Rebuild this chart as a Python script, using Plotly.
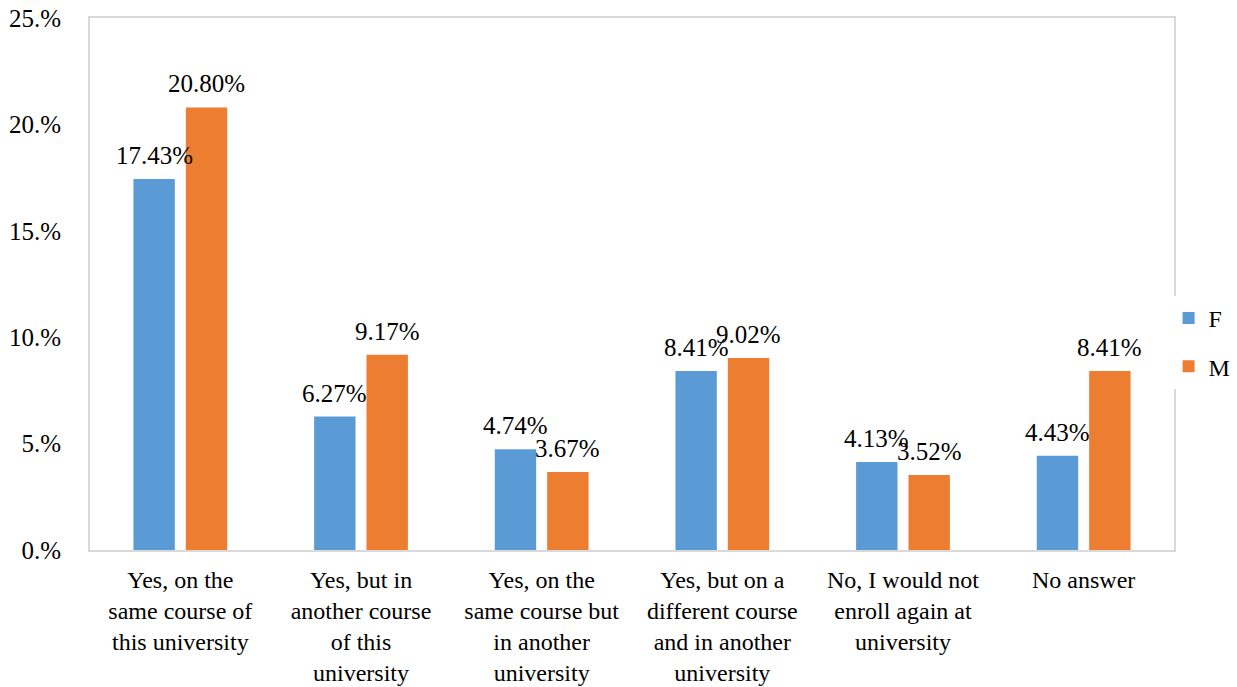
import plotly.graph_objects as go

# answers to "would you enroll again?"
categories = [
    "Yes, on the<br>same course of<br>this university",
    "Yes, but in<br>another course<br>of this<br>university",
    "Yes, on the<br>same course but<br>in another<br>university",
    "Yes, but on a<br>different course<br>and in another<br>university",
    "No, I would not<br>enroll again at<br>university",
    "No answer",
]
female = [17.43, 6.27, 4.74, 8.41, 4.13, 4.43]
male = [20.80, 9.17, 3.67, 9.02, 3.52, 8.41]
ytick_vals = [0, 5, 10, 15, 20, 25]
ytick_text = ["0.%", "5.%", "10.%", "15.%", "20.%", "25.%"]

font = "Times New Roman, Liberation Serif, serif"
bargap = 0.42
fsize = 25

fig = go.Figure()
fig.add_trace(go.Bar(x=categories, y=female, name="F", marker_color="#5b9bd5",
                     legendgroup="f"))
fig.add_trace(go.Bar(x=categories, y=male, name="M", marker_color="#ed7d31",
                     legendgroup="m"))
fig.update_traces(marker_line_width=0)

# value labels sit a little above the bars, like the original
slot = (1 - bargap) / 4
for series, off in ((female, -slot), (male, slot)):
    for i, v in enumerate(series):
        fig.add_annotation(x=i + off, y=v, text=f"{v:.2f}%", showarrow=False,
                           yanchor="bottom", yshift=8,
                           font=dict(family=font, size=fsize, color="black"))

fig.update_layout(
    width=1237, height=687,
    margin=dict(l=90, r=63, t=18, b=137, autoexpand=False),
    plot_bgcolor="white", paper_bgcolor="white",
    font=dict(family=font, size=fsize, color="black"),
    barmode="group", bargap=bargap, bargroupgap=0.21,
    legend=dict(x=0.995, xanchor="left", y=0.39, yanchor="middle",
                traceorder="grouped", tracegroupgap=14,
                font=dict(size=24), itemwidth=30),
    xaxis=dict(showline=True, linecolor="#d9d9d9", linewidth=2, mirror=True,
               ticks="", automargin=False, ticklabelstandoff=7,
               tickfont=dict(size=24)),
    yaxis=dict(range=[0, 25], tickvals=ytick_vals, ticktext=ytick_text,
               showgrid=False, showline=True, linecolor="#d9d9d9", linewidth=2,
               mirror=True, ticks="", ticklabelstandoff=22, zeroline=False,
               automargin=False),
)

# drop the default page margin so the figure sits at the window corner
fig.write_html("out.html", config={"displayModeBar": False},
               post_script="document.body.style.margin='0';")
